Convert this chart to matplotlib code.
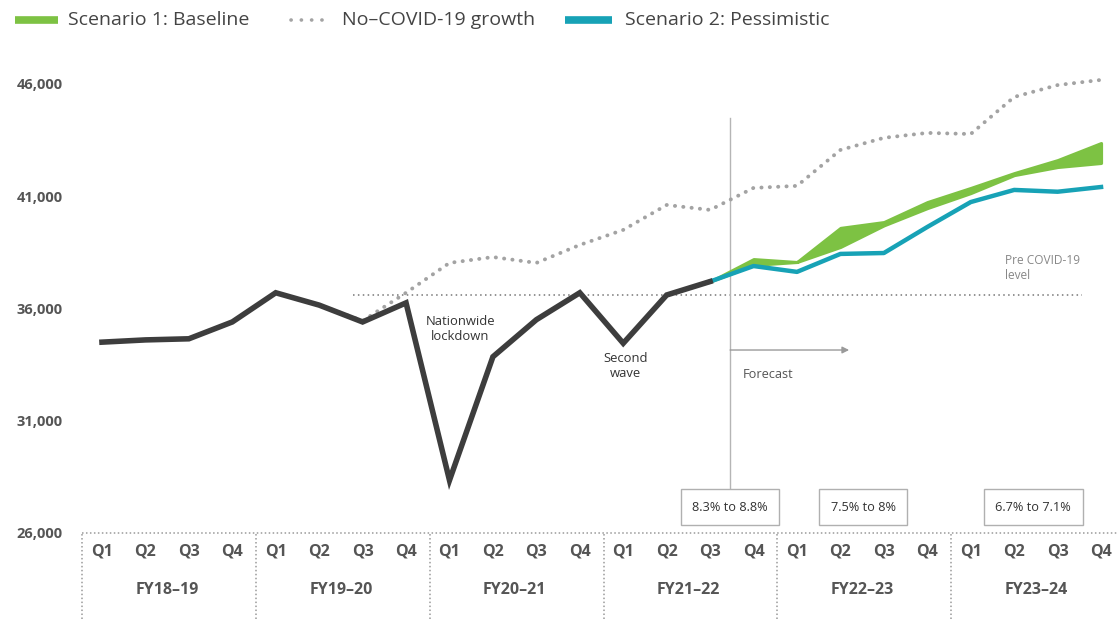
import matplotlib
matplotlib.use("Agg")
import matplotlib.pyplot as plt
from matplotlib.lines import Line2D
import numpy as np

# ---------------- data ----------------
quarters = ['Q1', 'Q2', 'Q3', 'Q4'] * 6
fiscal_years = ['FY18–19', 'FY19–20', 'FY20–21', 'FY21–22', 'FY22–23', 'FY23–24']
y_ticks = [26000, 31000, 36000, 41000, 46000]

actual = [34500, 34600, 34650, 35400, 36700, 36150, 35400, 36250,
          28350, 33850, 35500, 36700, 34450, 36600, 37200]
no_covid_start = 4
no_covid = [36700, 36150, 35450, 36700, 38030, 38290, 38030, 38830,
            39500, 40610, 40390, 41370, 41460, 43060, 43600, 43820,
            43770, 45420, 45950, 46180]
forecast_start = 14
baseline_upper = [37200, 38200, 38070, 39590, 39850, 40740, 41370, 42030, 42610, 43370]
baseline_lower = [37200, 37940, 38070, 38740, 39700, 40470, 41140, 41940, 42300, 42480]
pessimistic = [37200, 37890, 37630, 38430, 38470, 39630, 40740, 41280, 41200, 41410]
pre_covid_level = 36580
growth_ranges = ['8.3% to 8.8%', '7.5% to 8%', '6.7% to 7.1%']

# ---------------- style ----------------
DARK = '#3d3d3d'
TEAL = '#17a2b6'
GREEN = '#7dc243'
DOT = '#a3a3a3'
TXT = '#444444'
AX = '#555555'
AXFONT = dict(family='Open Sans', fontweight='bold', color=AX)

W, H = 1118, 619
fig = plt.figure(figsize=(W / 100, H / 100), dpi=100)
ax = fig.add_axes([82 / W, (H - 533) / H, (W - 82) / W, 471.5 / H])
xlim = (-0.46, 23.39)
ax.set_xlim(*xlim)
ax.set_ylim(26000, 47000)
for s in ax.spines.values():
    s.set_visible(False)
ax.set_xticks([])
ax.set_yticks(y_ticks)
ax.set_yticklabels([f'{v:,}' for v in y_ticks], fontsize=10.5, **AXFONT)
ax.tick_params(axis='y', length=0, pad=14)

x_act = np.arange(len(actual))
x_nc = np.arange(no_covid_start, no_covid_start + len(no_covid))
x_fc = np.arange(forecast_start, forecast_start + len(pessimistic))

# pre-covid level
ax.plot([5.78, 22.55], [pre_covid_level] * 2, color='#777777', lw=1.1,
        linestyle=(0, (1, 2.2)), zorder=1)
# no-covid growth
ax.plot(x_nc, no_covid, color=DOT, lw=2.8, linestyle=(0, (0.05, 2.1)),
        dash_capstyle='round', solid_capstyle='round', zorder=2)
# baseline band
ax.fill_between(x_fc, baseline_lower, baseline_upper, color=GREEN, lw=2.2,
                edgecolor=GREEN, zorder=3)
# pessimistic
ax.plot(x_fc, pessimistic, color=TEAL, lw=3.2, solid_joinstyle='round', zorder=4)
# actual
ax.plot(x_act, actual, color=DARK, lw=4.0, solid_joinstyle='miter', zorder=5)

# forecast vertical line and arrow
fx = 14.46
ax.plot([fx, fx], [27910, 44490], color='#b5b5b5', lw=1.0, zorder=1)
ax.annotate('', xy=(17.2, 34150), xytext=(fx, 34150),
            arrowprops=dict(arrowstyle='-|>', color='#9a9a9a', lw=1.0,
                            mutation_scale=10, shrinkA=0, shrinkB=0))
ax.text(14.75, 33080, 'Forecast', fontsize=9.2, color='#555555', family='Open Sans',
        ha='left', va='center')

# annotations
ax.text(8.25, 35090, 'Nationwide\nlockdown', fontsize=9.4, color='#333333',
        family='Open Sans', ha='center', va='center', linespacing=1.25)
ax.text(12.05, 33440, 'Second\nwave', fontsize=9.4, color='#333333',
        family='Open Sans', ha='center', va='center', linespacing=1.25)
ax.text(20.8, 37800, 'Pre COVID-19\nlevel', fontsize=8.6, color='#888888',
        family='Open Sans', ha='left', va='center', linespacing=1.15)

# growth range boxes
for xc, label in zip([14.46, 17.52, 21.44], growth_ranges):
    ax.text(xc, 27150, label, fontsize=9.2, color='#333333', family='Open Sans',
            ha='center', va='center', zorder=6,
            bbox=dict(boxstyle='square,pad=0.9', fc='white', ec='#b0b0b0', lw=1.0))

# ---------------- bottom category axis ----------------
bax = fig.add_axes([82 / W, 0, (W - 82) / W, 86 / H])
bax.set_xlim(*xlim)
bax.set_ylim(0, 86)
bax.axis('off')
dotstyle = dict(color='#9a9a9a', lw=1.1, linestyle=(0, (1, 1.6)), clip_on=False)
bax.plot([xlim[0], xlim[1]], [86, 86], **dotstyle)
for b in [-0.46, 3.55, 7.55, 11.55, 15.55, 19.55]:
    bax.plot([b, b], [0, 86], **dotstyle)
for i, q in enumerate(quarters):
    bax.text(i, 67, q, fontsize=11.5, ha='center', va='center', **AXFONT)
for k, fy in enumerate(fiscal_years):
    bax.text(4 * k + 1.5, 29, fy, fontsize=11.5, ha='center', va='center', **AXFONT)

# ---------------- legend ----------------
ly = 1 - 20 / H
fig.add_artist(Line2D([15 / W, 58 / W], [ly, ly], color=GREEN, lw=5.5,
                      solid_capstyle='butt'))
fig.text(68 / W, ly, 'Scenario 1: Baseline', fontsize=14, color=TXT,
         family='Open Sans', ha='left', va='center')
fig.add_artist(Line2D([291 / W, 330 / W], [ly, ly], color=DOT, lw=2.6,
                      linestyle=(0, (0.05, 2.8)), dash_capstyle='round'))
fig.text(342 / W, ly, 'No–COVID-19 growth', fontsize=14, color=TXT,
         family='Open Sans', ha='left', va='center')
fig.add_artist(Line2D([565 / W, 612 / W], [ly, ly], color=TEAL, lw=5.5,
                      solid_capstyle='butt'))
fig.text(625 / W, ly, 'Scenario 2: Pessimistic', fontsize=14, color=TXT,
         family='Open Sans', ha='left', va='center')

fig.savefig('out.png', dpi=100)
